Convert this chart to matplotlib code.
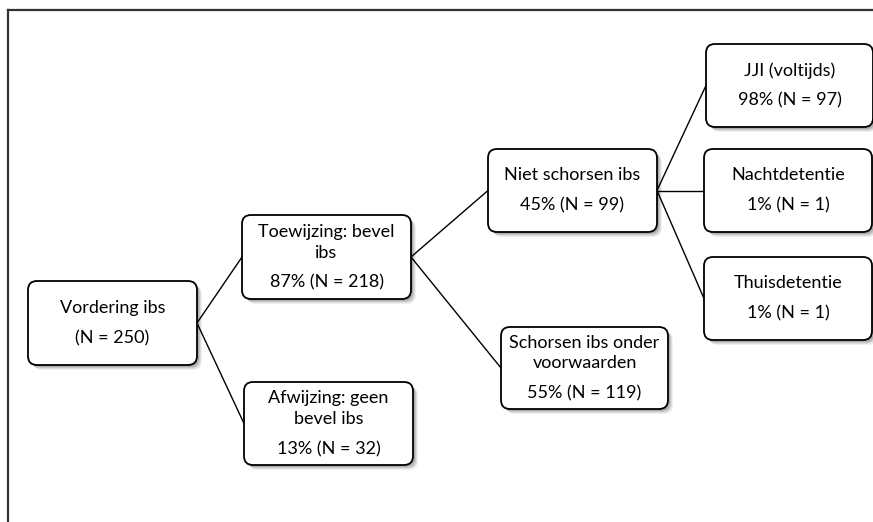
import matplotlib.pyplot as plt
from matplotlib.patches import FancyBboxPatch

# node labels and values
labels = ["Vordering ibs", "Toewijzing: bevel\nibs", "Afwijzing: geen\nbevel ibs",
          "Niet schorsen ibs", "Schorsen ibs onder\nvoorwaarden",
          "JJI (voltijds)", "Nachtdetentie", "Thuisdetentie"]
pcts = [None, 87, 13, 45, 55, 98, 1, 1]
ns = [250, 218, 32, 99, 119, 97, 1, 1]
parents = [None, 0, 0, 1, 1, 3, 3, 3]

# layout in pixels: left, top, right, bottom
boxes = [(28, 281, 197, 365), (242, 215, 411, 299), (244, 382, 413, 465),
         (488, 149, 657, 232), (501, 327, 668, 409),
         (706, 44, 873, 127), (704, 149, 872, 232), (704, 257, 872, 340)]

plt.rcParams['font.family'] = ['Lato', 'DejaVu Sans']

fig = plt.figure(figsize=(8.73, 5.22), dpi=100)
ax = fig.add_axes([0, 0, 1, 1])
ax.set_xlim(0, 873)
ax.set_ylim(522, 0)
ax.axis('off')

# outer frame (top and left only)
ax.plot([8, 873], [10, 10], color='#333333', lw=1.6)
ax.plot([8, 8], [10, 522], color='#333333', lw=1.6)

# connectors
for i, p in enumerate(parents):
    if p is None:
        continue
    x0 = boxes[p][2]
    y0 = (boxes[p][1] + boxes[p][3]) / 2
    x1 = boxes[i][0]
    y1 = (boxes[i][1] + boxes[i][3]) / 2
    ax.plot([x0, x1], [y0, y1], color='black', lw=1.0, zorder=1)

for i, (l, t, r, b) in enumerate(boxes):
    w, h = r - l, b - t
    # soft shadow
    for k, a in [(5, 0.06), (4, 0.08), (3, 0.10), (2, 0.12)]:
        sh = FancyBboxPatch((l + k, t + k), w, h, boxstyle="round,pad=0,rounding_size=9",
                            facecolor='#000000', edgecolor='none', alpha=a, zorder=2)
        ax.add_patch(sh)
    bx = FancyBboxPatch((l, t), w, h, boxstyle="round,pad=0,rounding_size=9",
                        facecolor='white', edgecolor='black', lw=1.3, zorder=3)
    ax.add_patch(bx)

    lines = labels[i].split("\n")
    last = f"{pcts[i]}% (N = {ns[i]})" if pcts[i] is not None else f"(N = {ns[i]})"
    total = 21 * (len(lines) - 1) + 30
    cy = (t + b) / 2
    y = cy - total / 2
    cx = (l + r) / 2
    for ln in lines:
        ax.text(cx, y, ln, ha='center', va='center', fontsize=13, zorder=4)
        y += 21
    y += 9
    ax.text(cx, y, last, ha='center', va='center', fontsize=13, zorder=4)

fig.savefig("out.png", dpi=100)
